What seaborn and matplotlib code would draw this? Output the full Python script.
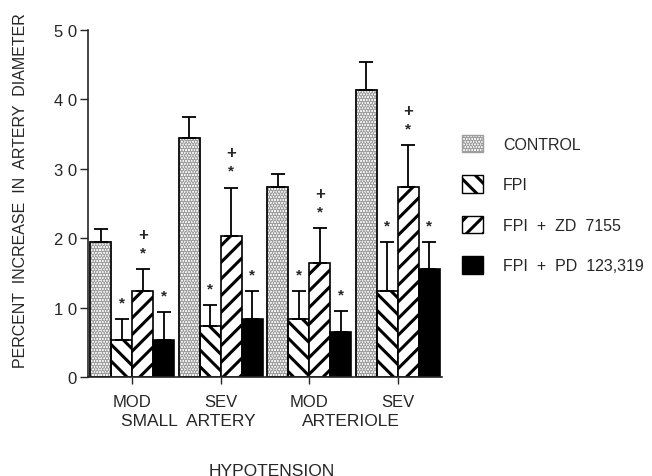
import numpy as np
import pandas as pd
import matplotlib
matplotlib.use("Agg")
import matplotlib.pyplot as plt
import matplotlib.patches as mpatches
import seaborn as sns

# --- data ---
groups = ["SA_MOD", "SA_SEV", "AR_MOD", "AR_SEV"]
group_labels = ["MOD", "SEV", "MOD", "SEV"]
treatments = ["CONTROL", "FPI", "FPI  +  ZD  7155", "FPI  +  PD  123,319"]

control = [19.4, 34.4, 27.4, 41.4]
fpi = [5.4, 7.4, 8.4, 12.4]
fpi_zd = [12.4, 20.3, 16.5, 27.4]
fpi_pd = [5.3, 8.4, 6.5, 15.5]

control_err = [1.9, 3.0, 1.9, 4.0]
fpi_err = [3.0, 3.0, 4.0, 7.0]
fpi_zd_err = [3.1, 7.0, 4.9, 6.0]
fpi_pd_err = [4.0, 4.0, 3.0, 4.0]

# significance marks (* vs control, + vs FPI)
fpi_marks = ["*", "*", "*", "*"]
fpi_zd_marks = ["*+", "*+", "*+", "*+"]
fpi_pd_marks = ["*", "*", "*", "*"]

values = [control, fpi, fpi_zd, fpi_pd]
errors = [control_err, fpi_err, fpi_zd_err, fpi_pd_err]
marks = [["", "", "", ""], fpi_marks, fpi_zd_marks, fpi_pd_marks]

rows = []
for t, vals in zip(treatments, values):
    for g, v in zip(groups, vals):
        rows.append({"group": g, "treatment": t, "value": v})
df = pd.DataFrame(rows)

sns.set_style("ticks")
plt.rcParams["font.family"] = ["Liberation Sans", "DejaVu Sans"]
plt.rcParams["hatch.linewidth"] = 2.2

fig = plt.figure(figsize=(6.52, 4.77), dpi=100)
ax = fig.add_axes([0.135, 0.2075, 0.543, 0.7275])

palette = {treatments[0]: "white", treatments[1]: "white",
           treatments[2]: "white", treatments[3]: "black"}
sns.barplot(data=df, x="group", y="value", hue="treatment", order=groups,
            hue_order=treatments, palette=palette, edgecolor="black",
            linewidth=1.2, width=0.95, errorbar=None, legend=False,
            saturation=1, ax=ax)

hatches = ["......", "\\\\", "//", ""]
STIPPLE = "0.62"


def stipple(patch, lw=1.2):
    # light stipple: grey dots, then a black outline drawn over the patch
    patch.set_edgecolor(STIPPLE)
    outline = mpatches.Rectangle(patch.get_xy(), patch.get_width(),
                                 patch.get_height(), fill=False,
                                 edgecolor="black", linewidth=lw,
                                 transform=ax.transData, zorder=patch.get_zorder())
    ax.add_patch(outline)


for i, (cont, h, errs, mk) in enumerate(zip(ax.containers, hatches, errors, marks)):
    xs, ys = [], []
    for bar in cont:
        bar.set_hatch(h)
        if i == 0:
            stipple(bar)
        xs.append(bar.get_x() + bar.get_width() / 2)
        ys.append(bar.get_height())
    xs = np.array(xs)
    ys = np.array(ys)
    errs = np.array(errs)
    ax.errorbar(xs, ys, yerr=[np.zeros_like(errs), errs], fmt="none",
                ecolor="black", elinewidth=1.3, capsize=5, capthick=1.3)
    for x, y, e, m in zip(xs, ys, errs, mk):
        top = y + e
        for k, ch in enumerate(m):
            ax.text(x, top + 2.4 + 2.6 * k, ch, ha="center", va="center",
                    fontsize=11 if ch == "*" else 12, fontweight="bold")

ax.set_xlim(-0.5, 3.5)
ax.set_ylim(0, 50)
ax.set_yticks([0, 10, 20, 30, 40, 50])
ax.set_yticklabels(["0", "1 0", "2 0", "3 0", "4 0", "5 0"], fontsize=12)
ax.set_xticks(range(4))
ax.set_xticklabels(group_labels, fontsize=12)
ax.tick_params(axis="y", length=6, width=1, pad=2)
ax.tick_params(axis="x", length=5, width=1, pad=7)
ax.set_xlabel("")
ax.set_ylabel("PERCENT  INCREASE  IN  ARTERY  DIAMETER", fontsize=11.5)
ax.yaxis.set_label_coords(-0.17, 0.54)
sns.despine(ax=ax)
ax.spines["left"].set_linewidth(1.2)
ax.spines["bottom"].set_linewidth(1.2)

# vessel labels and overall x label
ax.text(0.63, -0.126, "SMALL  ARTERY", transform=ax.get_xaxis_transform(),
        ha="center", va="center", fontsize=12.5)
ax.text(2.47, -0.126, "ARTERIOLE", transform=ax.get_xaxis_transform(),
        ha="center", va="center", fontsize=12.5)
ax.text(0.52, -0.268, "HYPOTENSION", transform=ax.transAxes,
        ha="center", va="center", fontsize=12.5)

handles = []
for t, h in zip(treatments, hatches):
    ec = STIPPLE if h.startswith(".") else "black"
    handles.append(mpatches.Patch(facecolor=palette[t], edgecolor=ec, hatch=h,
                                  linewidth=1.0, label=t))
leg = fig.legend(handles=handles, loc="upper left", bbox_to_anchor=(0.687, 0.746),
                 frameon=False, fontsize=11.5, handlelength=1.3, handleheight=1.3,
                 labelspacing=1.45, handletextpad=1.25)

fig.savefig("out.png", dpi=100)
